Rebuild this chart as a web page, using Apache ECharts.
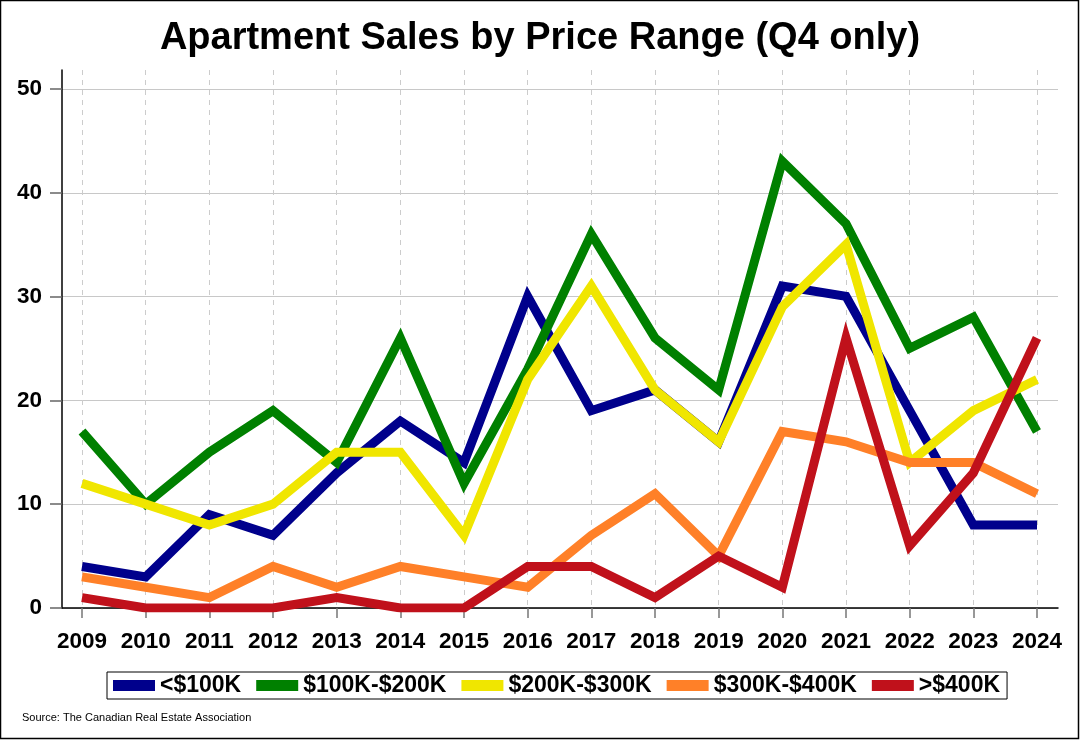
<!DOCTYPE html>
<html>
<head>
<meta charset="utf-8">
<script src="https://cdn.jsdelivr.net/npm/echarts@6/dist/echarts.min.js"></script>
<style>
html,body{margin:0;padding:0;background:#fff;}
#chart{width:1080px;height:740px;}
</style>
</head>
<body>
<div id="chart"></div>
<script>
const years = ['2009','2010','2011','2012','2013','2014','2015','2016','2017','2018','2019','2020','2021','2022','2023','2024'];
const seriesNames = ['<$100K', '$100K-$200K', '$200K-$300K', '$300K-$400K', '>$400K'];
const under100 = [4, 3, 9, 7, 13, 18, 14, 30, 19, 21, 16, 31, 30, 19, 8, 8];
const k100to200 = [17, 10, 15, 19, 14, 26, 12, 23, 36, 26, 21, 43, 37, 25, 28, 17];
const k200to300 = [12, 10, 8, 10, 15, 15, 7, 22, 31, 21, 16, 29, 35, 14, 19, 22];
const k300to400 = [3, 2, 1, 4, 2, 4, 3, 2, 7, 11, 5, 17, 16, 14, 14, 11];
const over400 = [1, 0, 0, 0, 1, 0, 0, 4, 4, 1, 5, 2, 26, 6, 13, 26];
const yTicks = [0, 10, 20, 30, 40, 50];

const colors = ['#00008C', '#008000', '#F0E600', '#FF8028', '#C0111B'];
const seriesData = [under100, k100to200, k200to300, k300to400, over400];
const FONT = "'Liberation Sans', Arial, sans-serif";

const chart = echarts.init(document.getElementById('chart'), null, {renderer: 'canvas'});

const option = {
  animation: false,
  backgroundColor: '#fff',
  title: {
    text: 'Apartment Sales by Price Range (Q4 only)',
    left: 'center',
    top: 15,
    textStyle: {fontFamily: FONT, fontSize: 38, fontWeight: 'bold', color: '#000'}
  },
  legend: {
    left: 107,
    top: 672,
    padding: [2, 7, 2, 6],
    borderColor: '#000',
    borderWidth: 1,
    itemWidth: 42,
    itemHeight: 11,
    itemGap: 15,
    icon: 'rect',
    textStyle: {fontFamily: FONT, fontSize: 23, fontWeight: 'bold', color: '#000'},
    data: seriesNames
  },
  grid: [
    {left: 62, right: 22, top: 89, bottom: 132},
    {left: 62, right: 22, top: 70, bottom: 132},
    {left: 82, right: 43, top: 70, bottom: 132}
  ],
  xAxis: [
    {gridIndex: 0, type: 'value', min: 0, max: 1,
     axisLine: {show: true, lineStyle: {color: '#000', width: 1.5}},
     axisTick: {show: false}, axisLabel: {show: false}, splitLine: {show: false}},
    {gridIndex: 1, type: 'value', min: 0, max: 1, show: false},
    {gridIndex: 2, type: 'category', data: years, boundaryGap: false,
     axisLine: {show: false},
     axisTick: {show: true, interval: 0, length: 10, lineStyle: {color: '#777', width: 1.5}},
     axisLabel: {interval: 0, hideOverlap: false, margin: 22, fontFamily: FONT, fontSize: 22.5, fontWeight: 'bold', color: '#000'},
     splitLine: {show: true, interval: 0, lineStyle: {color: '#ccc', type: [5, 5], width: 1}}}
  ],
  yAxis: [
    {gridIndex: 0, type: 'value', min: yTicks[0], max: yTicks[yTicks.length - 1], interval: 10,
     axisLine: {show: false},
     axisTick: {show: true, length: 12, lineStyle: {color: '#666', width: 1.5}},
     axisLabel: {margin: 20, fontFamily: FONT, fontSize: 22.5, fontWeight: 'bold', color: '#000'},
     splitLine: {show: true, lineStyle: {color: '#c8c8c8', width: 1}}},
    {gridIndex: 1, type: 'value', min: 0, max: 1,
     axisLine: {show: true, lineStyle: {color: '#000', width: 1.5}},
     axisTick: {show: false}, axisLabel: {show: false}, splitLine: {show: false}},
    {gridIndex: 2, type: 'value', min: 0, max: 51.8, show: false}
  ],
  series: seriesNames.map((name, i) => ({
    name: name,
    type: 'line',
    xAxisIndex: 2,
    yAxisIndex: 2,
    data: seriesData[i],
    showSymbol: false,
    symbol: 'none',
    color: colors[i],
    lineStyle: {width: 9, color: colors[i], join: 'miter', cap: 'butt', miterLimit: 10},
    itemStyle: {color: colors[i]},
    emphasis: {disabled: true}
  })),
  graphic: [
    {type: 'rect', shape: {x: 0.5, y: 0.5, width: 1078, height: 738},
     style: {fill: 'none', stroke: '#000', lineWidth: 1.5}, silent: true, z: 100},
    {type: 'text', left: 22, top: 712,
     style: {text: 'Source: The Canadian Real Estate Association', fontFamily: FONT, fontSize: 11, fill: '#000'}}
  ]
};
chart.setOption(option);
</script>
</body>
</html>
